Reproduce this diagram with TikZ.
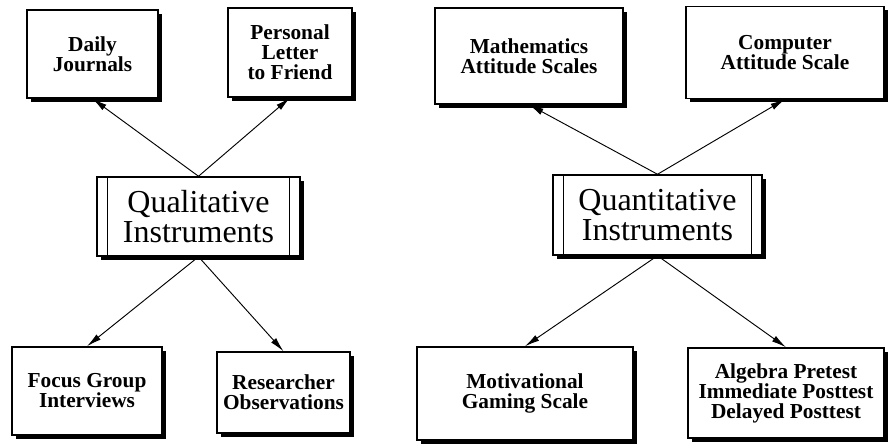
\documentclass[tikz,border=0pt]{standalone}
\usepackage{fontspec}
\setmainfont{Liberation Serif}
\usetikzlibrary{arrows.meta,shadows}

\begin{document}
\begin{tikzpicture}[x=0.75pt,y=-0.75pt,
  item/.style={draw,line width=1.1pt,fill=white,align=center,inner sep=0pt,
    font=\fontsize{16}{15}\selectfont\bfseries,
    drop shadow={shadow xshift=2.8pt,shadow yshift=-2.8pt,fill=black,opacity=1}},
  instr/.style={item,font=\fontsize{24}{22}\selectfont},
  size/.style 2 args={minimum width=#1*0.75pt,minimum height=#2*0.75pt},
  link/.style={-{Latex[length=11pt,width=5pt]},line width=0.7pt}]
  \useasboundingbox (0,0) rectangle (889,446);

  % the two groups of instruments
  \node[instr,size={203}{79}] (qual) at (198.5,216.5) {Qualitative\\Instruments};
  \node[instr,size={209}{80}] (quant) at (657.5,215) {Quantitative\\Instruments};
  \foreach \n in {qual,quant} {
    \draw[line width=1.1pt] ([xshift=8.5pt]\n.north west) -- ([xshift=8.5pt]\n.south west);
    \draw[line width=1.1pt] ([xshift=-8.5pt]\n.north east) -- ([xshift=-8.5pt]\n.south east);
  }

  % qualitative side
  \node[item,size={131}{88}] (daily) at (92.5,54) {Daily\\Journals};
  \node[item,size={124}{89}] (letter) at (290,52.5) {Personal\\Letter\\to Friend};
  \node[item,size={150}{88}] (focus) at (87,391) {Focus Group\\Interviews};
  \node[item,size={133}{81}] (observ) at (283.5,392.5) {Researcher\\Observations};

  % quantitative side
  \node[item,size={188}{96}] (math) at (529,56) {Mathematics\\Attitude Scales};
  \node[item,size={198}{92}] (comp) at (785,52.5) {Computer\\Attitude Scale};
  \node[item,size={216}{93}] (motiv) at (525,393.5) {Motivational\\Gaming Scale};
  \node[item,size={196}{90}] (algebra) at (786,393) {Algebra Pretest\\Immediate Posttest\\Delayed Posttest};

  \draw[link] (qual.north) -- (daily.south);
  \draw[link] (qual.north) -- (letter.south);
  \draw[link] (qual.south) -- (focus.north);
  \draw[link] (qual.south) -- (observ.north);
  \draw[link] (quant.north) -- (math.south);
  \draw[link] (quant.north) -- (comp.south);
  \draw[link] (quant.south) -- (motiv.north);
  \draw[link] (quant.south) -- (algebra.north);
\end{tikzpicture}
\end{document}
